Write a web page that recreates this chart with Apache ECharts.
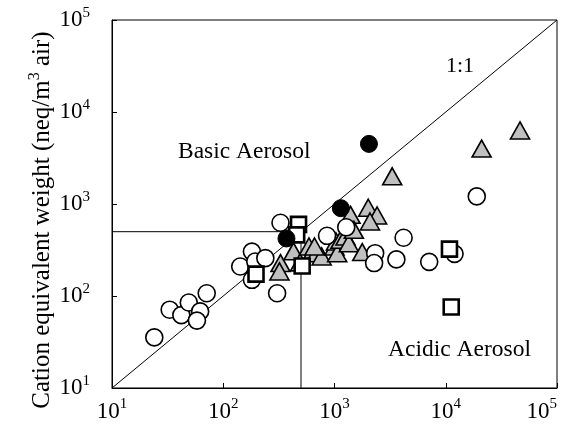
<!DOCTYPE html>
<html>
<head>
<meta charset="utf-8">
<script src="https://cdn.jsdelivr.net/npm/echarts@6/dist/echarts.min.js"></script>
<style>
  html, body { margin: 0; padding: 0; background: #fff; }
  #chart { width: 561px; height: 433px; }
</style>
</head>
<body>
<div id="chart"></div>
<script>
// Anion vs cation equivalent weight (neq/m3 air), log-log
const tickExponents = [1, 2, 3, 4, 5];

const openCircles = [
  [24, 35.5], [33, 71], [42, 62], [49, 85], [62, 68], [58, 54], [71, 107],
  [142, 209], [181, 304], [194, 237], [239, 258], [181, 150], [305, 107], [327, 625],
  [857, 451], [1275, 558], [2320, 292], [2270, 228], [3600, 250], [4180, 430],
  [7100, 235], [12000, 287], [19000, 1210]
];

const grayTriangles = [
  [327, 228], [320, 185], [428, 306], [490, 232], [590, 345], [647, 317], [686, 292],
  [766, 269], [661, 345], [1000, 345], [1030, 392], [1057, 292], [1133, 408], [1256, 443],
  [1346, 375], [1394, 762], [1493, 524], [1775, 300], [2010, 910], [2415, 750], [2084, 645],
  [3300, 2000], [21000, 4000], [46500, 6300]
];

const openSquares = [
  [197, 173], [475, 600], [457, 462], [512, 212], [10800, 323], [11200, 76]
];

const filledCircles = [
  [370, 422], [1140, 900], [2040, 4500]
];

const oneToOne = [[10, 10], [100000, 100000]];
const hLine = [[10, 500], [500, 500]];
const vLine = [[500, 10], [500, 500]];

const serif = 'Liberation Serif, Times New Roman, serif';

const supRich = {
  b: { fontFamily: serif, fontSize: 23, color: '#000', lineHeight: 29 },
  s: { fontFamily: serif, fontSize: 15, color: '#000', verticalAlign: 'top', lineHeight: 15 }
};

function powLabel(v) {
  const e = Math.round(Math.log10(v));
  return tickExponents.includes(e) ? '{b|10}{s|' + e + '}' : '';
}

function guide(data) {
  return {
    type: 'line', data: data, symbol: 'none', silent: true,
    lineStyle: { color: '#000', width: 1 }, z: 1
  };
}

const chart = echarts.init(document.getElementById('chart'), null, { renderer: 'canvas' });
chart.setOption({
  animation: false,
  backgroundColor: '#fff',
  grid: {
    left: 112, right: 4, top: 20, bottom: 45,
    containLabel: false, outerBoundsMode: 'none',
    show: true, borderColor: '#000', borderWidth: 1
  },
  xAxis: {
    type: 'log', logBase: 10, min: 10, max: 100000,
    axisLine: { lineStyle: { color: '#000', width: 1 } },
    axisTick: { inside: true, length: 5, lineStyle: { color: '#000' } },
    splitLine: { show: false },
    minorTick: { show: false },
    axisLabel: { margin: 9, formatter: powLabel, rich: supRich, alignMaxLabel: 'right' }
  },
  yAxis: {
    type: 'log', logBase: 10, min: 10, max: 100000,
    axisLine: { lineStyle: { color: '#000', width: 1 } },
    axisTick: { inside: true, length: 5, lineStyle: { color: '#000' } },
    splitLine: { show: false },
    minorTick: { show: false },
    axisLabel: { margin: 22, formatter: powLabel, rich: supRich }
  },
  graphic: [
    {
      type: 'text', x: 42, y: 220, rotation: Math.PI / 2,
      style: {
        text: '{t|Cation equivalent weight (neq/m}{s|3}{t| air)}',
        align: 'center', verticalAlign: 'middle',
        rich: {
          t: { fontFamily: serif, fontSize: 25, fill: '#000', lineHeight: 30 },
          s: { fontFamily: serif, fontSize: 16, fill: '#000', verticalAlign: 'top', lineHeight: 16 }
        }
      }
    },
    { type: 'text', left: 446, top: 55, style: { text: '1:1', font: '22px ' + serif, fill: '#000' } },
    { type: 'text', left: 178, top: 140, style: { text: 'Basic Aerosol', font: '23.5px ' + serif, fill: '#000' } },
    { type: 'text', left: 388, top: 338, style: { text: 'Acidic Aerosol', font: '23.5px ' + serif, fill: '#000' } }
  ],
  series: [
    guide(oneToOne),
    guide(hLine),
    guide(vLine),
    {
      type: 'scatter', data: grayTriangles, symbol: 'triangle', symbolSize: [19, 17], z: 2,
      itemStyle: { color: '#c0c0c0', borderColor: '#000', borderWidth: 1.6, opacity: 1 }
    },
    {
      type: 'scatter', data: openCircles, symbol: 'circle', symbolSize: 17, z: 3,
      itemStyle: { color: '#fff', borderColor: '#000', borderWidth: 1.6, opacity: 1 }
    },
    {
      type: 'scatter', data: openSquares, symbol: 'rect', symbolSize: 15, z: 4,
      itemStyle: { color: '#fff', borderColor: '#000', borderWidth: 2.6, opacity: 1 }
    },
    {
      type: 'scatter', data: filledCircles, symbol: 'circle', symbolSize: 17, z: 5,
      itemStyle: { color: '#000', borderColor: '#000', borderWidth: 1, opacity: 1 }
    }
  ]
});
</script>
</body>
</html>
